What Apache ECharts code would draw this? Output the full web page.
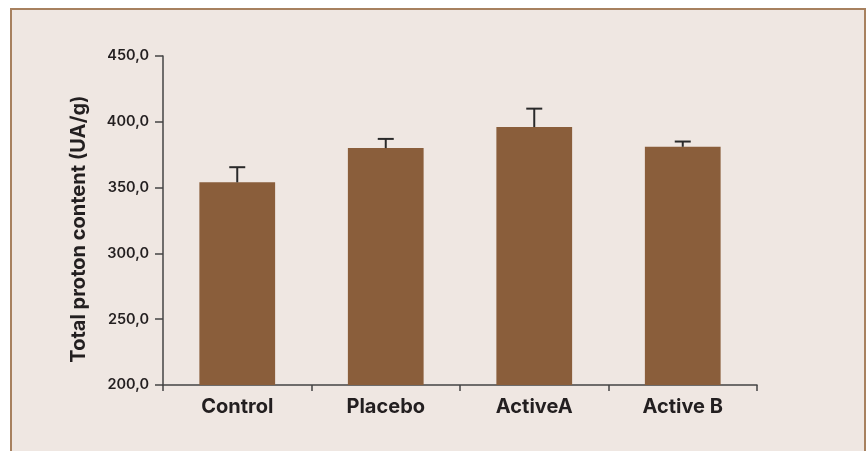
<!DOCTYPE html>
<html>
<head>
<meta charset="utf-8">
<script src="https://cdn.jsdelivr.net/npm/echarts@6/dist/echarts.min.js"></script>
<style>
  html, body { margin: 0; padding: 0; background: #ffffff; }
  #frame {
    position: absolute; left: 10px; top: 8px; width: 852px; height: 500px;
    border: 2px solid #a7815f; background: #efe7e2;
  }
  #chart { position: absolute; left: 0; top: 0; width: 866px; height: 451px; }
</style>
</head>
<body>
<div id="frame"></div>
<div id="chart"></div>
<script>
// Mean total proton content per group, with the upper SD whisker
const categories = ['Control', 'Placebo', 'ActiveA', 'Active B'];
const means = [354, 380, 396, 381];
const errors = [11.5, 7, 14, 4];
const yTicks = { min: 200, max: 450, interval: 50 };

const axisColor = '#444444';
const barColor = '#8a5e3b';
const textColor = '#231f20';

const chart = echarts.init(document.getElementById('chart'));
chart.setOption({
  backgroundColor: 'transparent',
  animation: false,
  grid: { left: 163, right: 109, top: 56, bottom: 66 },
  xAxis: {
    type: 'category',
    data: categories,
    axisLine: { lineStyle: { color: axisColor, width: 1.5 } },
    axisTick: { show: true, length: 6, lineStyle: { color: axisColor, width: 1.5 } },
    axisLabel: {
      margin: 12, fontFamily: 'Inter', fontWeight: 'bold', fontSize: 20, color: textColor
    }
  },
  yAxis: {
    type: 'value',
    min: yTicks.min, max: yTicks.max, interval: yTicks.interval,
    splitLine: { show: false },
    axisLine: { show: true, lineStyle: { color: axisColor, width: 1.5 } },
    axisTick: { show: true, length: 8, lineStyle: { color: axisColor, width: 1.5 } },
    axisLabel: {
      margin: 14, fontFamily: 'Inter', fontWeight: 600, fontSize: 14.5, color: textColor,
      formatter: v => v.toFixed(1).replace('.', ',')
    }
  },
  graphic: [{
    type: 'text',
    rotation: Math.PI / 2,
    x: 79, y: 229,
    style: {
      text: 'Total proton content (UA/g)',
      fontFamily: 'Inter', fontWeight: 'bold', fontSize: 20, fill: textColor,
      align: 'center', verticalAlign: 'middle'
    }
  }],
  series: [
    {
      type: 'bar',
      data: means,
      barWidth: '51%',
      itemStyle: { color: barColor },
      z: 2
    },
    {
      type: 'custom',
      z: 3,
      data: means.map((m, i) => [i, m, m + errors[i]]),
      renderItem: (params, api) => {
        const base = api.coord([api.value(0), api.value(1)]);
        const top = api.coord([api.value(0), api.value(2)]);
        const half = 8;
        const style = { stroke: '#2a2a2a', lineWidth: 2 };
        return {
          type: 'group',
          children: [
            { type: 'line', shape: { x1: base[0], y1: base[1], x2: top[0], y2: top[1] }, style },
            { type: 'line', shape: { x1: top[0] - half, y1: top[1], x2: top[0] + half, y2: top[1] }, style }
          ]
        };
      }
    }
  ]
});
</script>
</body>
</html>
